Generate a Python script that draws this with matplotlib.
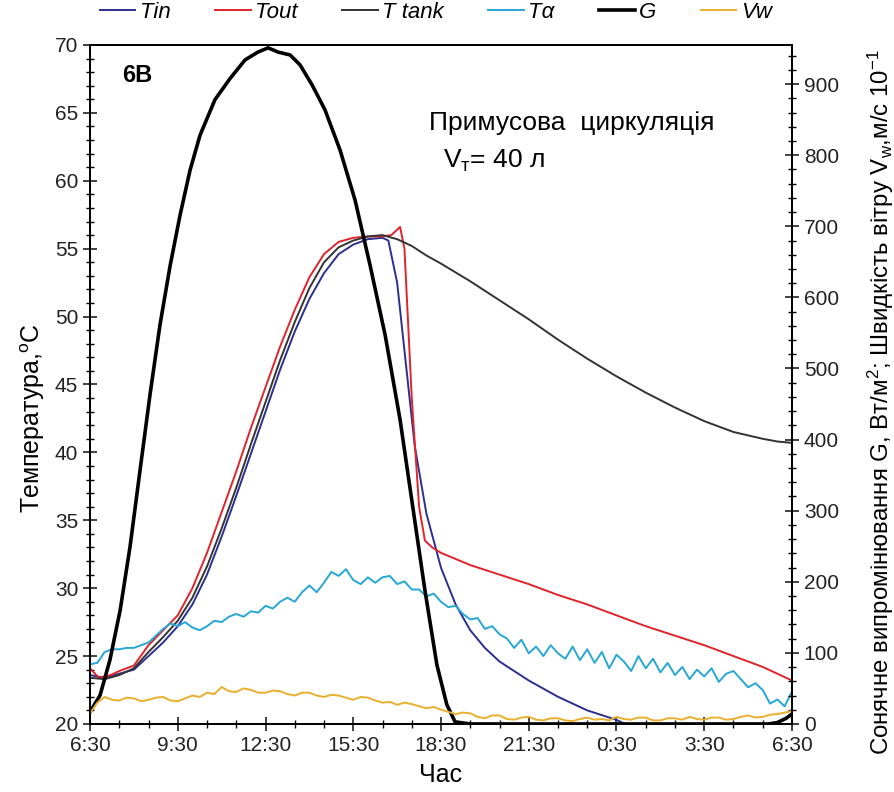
import numpy as np
import matplotlib.pyplot as plt
from matplotlib.ticker import MultipleLocator

plt.rcParams['font.family'] = ['Liberation Sans', 'DejaVu Sans']
plt.rcParams['mathtext.fontset'] = 'custom'
plt.rcParams['mathtext.rm'] = 'Liberation Sans'
plt.rcParams['mathtext.it'] = 'Liberation Sans:italic'

# hours after 6:30
tick_hours = [0, 3, 6, 9, 12, 15, 18, 21, 24]
tick_labels = ['6:30', '9:30', '12:30', '15:30', '18:30', '21:30', '0:30', '3:30', '6:30']

tout_h = [0, 0.3, 0.7, 1.0, 1.5, 2.0, 2.5, 3.0, 3.5, 4.0, 4.5, 5.0, 5.5, 6.0, 6.5, 7.0, 7.5, 8.0,
          8.5, 9.0, 9.5, 10.0, 10.3, 10.45, 10.6, 10.75, 11.0, 11.25, 11.45, 11.7, 12, 13, 14, 15,
          16, 17, 18, 19, 20, 21, 22, 23, 24]
tout_t = [24.1, 23.4, 23.6, 23.9, 24.3, 25.8, 26.9, 28.0, 30.0, 32.6, 35.6, 38.6, 41.8, 44.8, 47.8,
          50.5, 52.9, 54.6, 55.5, 55.8, 55.9, 55.9, 56.0, 56.3, 56.6, 55.0, 44.0, 36.0, 33.5, 33.0,
          32.6, 31.7, 31.0, 30.3, 29.5, 28.8, 28.0, 27.2, 26.5, 25.8, 25.0, 24.2, 23.2]

tin_h = [0, 0.5, 1.0, 1.5, 2.0, 2.5, 3.0, 3.5, 4.0, 4.5, 5.0, 5.5, 6.0, 6.5, 7.0, 7.5, 8.0, 8.5,
         9.0, 9.5, 10.0, 10.2, 10.5, 10.8, 11.1, 11.5, 12.0, 12.5, 13, 13.5, 14, 15, 16, 17, 18,
         18.3, 19, 24]
tin_t = [23.6, 23.4, 23.7, 24.0, 25.0, 26.0, 27.2, 28.8, 31.0, 33.8, 36.8, 39.9, 43.0, 46.1, 48.9,
         51.3, 53.2, 54.6, 55.3, 55.7, 55.8, 55.6, 52.5, 46.5, 40.5, 35.5, 31.5, 28.8, 26.9, 25.6,
         24.6, 23.2, 22.0, 21.0, 20.3, 20.0, 19.8, 19.8]

ttank_h = [0, 0.5, 1.0, 1.5, 2.0, 2.5, 3.0, 3.5, 4.0, 4.5, 5.0, 5.5, 6.0, 6.5, 7.0, 7.5, 8.0, 8.5,
           9.0, 9.5, 10.0, 10.5, 11.0, 11.5, 12, 13, 14, 15, 16, 17, 18, 19, 20, 21, 22, 23, 23.5, 24]
ttank_t = [23.4, 23.3, 23.6, 24.1, 25.3, 26.4, 27.6, 29.3, 31.6, 34.4, 37.4, 40.6, 43.7, 46.8, 49.6,
           52.1, 54.0, 55.1, 55.6, 55.9, 56.0, 55.7, 55.2, 54.5, 53.9, 52.6, 51.2, 49.8, 48.3, 46.9,
           45.6, 44.4, 43.3, 42.3, 41.5, 41.0, 40.8, 40.7]

# ambient temperature, every 15 min
ta_t = [24.4, 24.5, 25.3, 25.5, 25.5,
        25.6, 25.6, 25.8, 26.0,
        26.5, 27.0, 27.4, 27.2,
        27.5, 27.1, 26.9, 27.2,
        27.6, 27.5, 27.9, 28.1,
        27.9, 28.3, 28.2, 28.7,
        28.5, 29.0, 29.3, 29.0,
        29.7, 30.2, 29.7, 30.4,
        31.2, 30.9, 31.4, 30.6,
        30.3, 30.8, 30.4, 30.8,
        30.9, 30.3, 30.5, 29.9,
        29.9, 29.4, 29.6, 29.0,
        28.6, 28.7, 28.1, 27.7,
        27.8, 27.0, 27.2, 26.6,
        26.3, 25.6, 26.2, 25.2,
        25.7, 25.0, 25.8, 25.2,
        24.8, 25.7, 24.7, 25.5,
        24.5, 25.3, 24.1, 25.1,
        24.6, 23.9, 25.0, 24.1,
        24.8, 23.8, 24.5, 23.6,
        24.2, 23.3, 24.0, 23.5,
        24.1, 23.1, 23.7, 23.9,
        23.3, 22.7, 23.0, 22.5,
        21.5, 21.8, 21.3, 22.4]

# solar radiation, W/m2
g_h = [0, 0.34, 0.68, 1.03, 1.37, 1.71, 2.05, 2.39, 2.74, 3.08, 3.42, 3.76, 4.27, 4.79, 5.3, 5.74,
       6.09, 6.43, 6.84, 7.18, 7.59, 8.03, 8.55, 9.06, 9.57, 10.09, 10.6, 11.0, 11.45, 11.86, 12.2,
       12.48, 13, 23.2, 23.5, 23.8, 24]
g_v = [17, 40, 90, 160, 250, 357, 463, 561, 645, 716, 779, 828, 878, 908, 934, 945,
       951, 945, 941, 927, 899, 864, 807, 737, 646, 547, 428, 315, 188, 83, 27,
       3, 0, 0, 2, 8, 14]

# wind speed, m/s x10, every 15 min
vw_v = [15, 30, 38, 34, 33, 37, 36, 32, 34, 37, 38, 33, 32, 36, 40, 38,
        44, 42, 52, 46, 45, 50, 48, 44, 44, 47, 46, 42, 40, 44, 44, 40,
        38, 41, 40, 37, 34, 38, 37, 33, 30, 31, 27, 30, 28, 25, 22, 24,
        20, 17, 14, 16, 15, 10, 8, 12, 12, 7, 6, 9, 10, 6, 5, 8,
        8, 5, 4, 7, 9, 6, 7, 5, 10, 7, 6, 9, 9, 5, 5, 8,
        8, 6, 10, 7, 6, 9, 9, 6, 7, 10, 12, 9, 10, 13, 14, 16, 18]

ta_h = np.arange(len(ta_t)) * 0.25
vw_h = np.arange(len(vw_v)) * 0.25

fig = plt.figure(figsize=(8.95, 7.92), dpi=100)
ax = fig.add_axes([0.1006, 0.0859, 0.7843, 0.8573])
ax2 = ax.twinx()

l1, = ax.plot(tin_h, tin_t, color='#2b2f8f', lw=1.4, label='Tin')
l2, = ax.plot(tout_h, tout_t, color='#e0242b', lw=1.4, label='Tout')
l3, = ax.plot(ttank_h, ttank_t, color='#333333', lw=1.4, label='T tank')
l4, = ax.plot(ta_h, ta_t, color='#27a7d6', lw=1.4, label='Tα')
l5, = ax2.plot(g_h, g_v, color='black', lw=2.6, label='G')
l6, = ax2.plot(vw_h, vw_v, color='#e8b02e', lw=1.4, label='Vw')

ax.set_xlim(0, 24)
ax.set_ylim(20, 70)
ax2.set_ylim(0, 955)

ax.set_xticks(tick_hours)
ax.set_xticklabels(tick_labels)
ax.xaxis.set_minor_locator(MultipleLocator(1))
ax.yaxis.set_major_locator(MultipleLocator(5))
ax.yaxis.set_minor_locator(MultipleLocator(1))
ax2.yaxis.set_major_locator(MultipleLocator(100))
ax2.yaxis.set_minor_locator(MultipleLocator(20))

for a in (ax, ax2):
    a.tick_params(which='major', direction='inout', length=10, width=1.2, labelsize=15, colors='#222222')
    a.tick_params(which='minor', direction='inout', length=6, width=1.0)
    for s in a.spines.values():
        s.set_linewidth(1.3)

ax.set_xlabel('Час', fontsize=18, labelpad=6)
ax.set_ylabel('Температура,$^{\\mathrm{o}}$C', fontsize=18)
ax.yaxis.set_label_coords(-0.062, 0.45)
ax2.set_ylabel('Сонячне випромінювання G, Вт/м$^{2}$; Швидкість вітру V$_{\\mathrm{w}}$,м/с 10$^{-1}$',
               fontsize=17.3)
ax2.yaxis.set_label_coords(1.105, 0.474)

ax.text(0.046, 0.955, '6B', transform=ax.transAxes, fontsize=17, fontweight='bold', va='center')
ax.text(0.483, 0.885, 'Примусова  циркуляція', transform=ax.transAxes, fontsize=19, va='center')
ax.text(0.503, 0.83, 'V$_{\\mathrm{т}}$= 40 л', transform=ax.transAxes, fontsize=19, va='center')

leg = fig.legend(handles=[l1, l2, l3, l4, l5, l6], loc='center', bbox_to_anchor=(0.487, 0.984),
                 ncol=6, frameon=False, handlelength=1.6, handletextpad=0.2, columnspacing=2.0,
                 prop={'style': 'italic', 'size': 16})

fig.savefig('out.png', dpi=100)
